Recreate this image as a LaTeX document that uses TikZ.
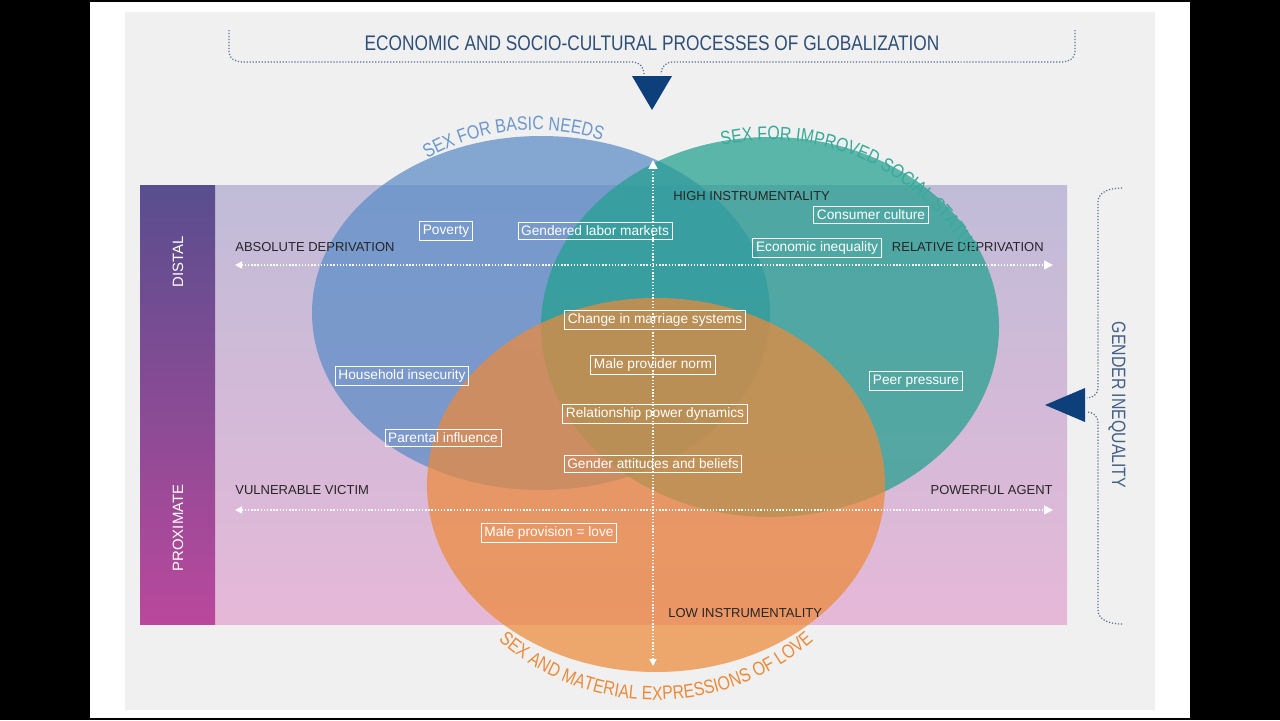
\documentclass[tikz,border=0pt]{standalone}
\usepackage{fontspec}
\setmainfont{Liberation Sans}
\newfontfamily\cond{Liberation Sans}[FakeStretch=0.82]
\usetikzlibrary{decorations.text,arrows.meta}
\definecolor{cblue}{HTML}{5A8CC6}
\definecolor{cgreen}{HTML}{22A08F}
\definecolor{corange}{HTML}{EC8A3A}
\definecolor{navy}{HTML}{0D3F7A}
\definecolor{ttl}{HTML}{2E4F78}
\tikzset{
 box/.style={draw=white,line width=0.5pt,text=white,font=\fontsize{7.8}{8}\selectfont,inner sep=1.8pt},
 lab/.style={text=black!85,font=\fontsize{7.4}{8}\selectfont,inner sep=0pt},
 axis/.style={white,line width=0.8pt,densely dotted,{Triangle[open,fill=white,length=4pt,width=4pt]}-{Triangle[fill=white,length=5pt,width=5pt]}},
 brace/.style={ttl!80,line width=0.7pt,densely dotted},
}
\begin{document}
\begin{tikzpicture}[x=0.02cm,y=-0.02cm]
\useasboundingbox (0,0) rectangle (1280,720);
\fill[black] (0,0) rectangle (1280,720);
\fill[white] (90,2) rectangle (1190,718);
\fill[gray!12] (125,12) rectangle (1155,710);
% main band
\shade[top color={rgb,255:red,192;green,188;blue,216},bottom color={rgb,255:red,230;green,184;blue,216}] (215,185) rectangle (1067,624);
\shade[top color={rgb,255:red,88;green,78;blue,142},bottom color={rgb,255:red,186;green,72;blue,156}] (140,185) rectangle (215,624);
% circles
\fill[cblue,opacity=0.72] (541,313) ellipse [x radius=229,y radius=177];
\fill[cgreen,opacity=0.72] (770,327) ellipse [x radius=229,y radius=190];
\fill[corange,opacity=0.72] (656,485) ellipse [x radius=229,y radius=187];
% axes
\coordinate (vt) at (653,160); \coordinate (vb) at (653,666);
\coordinate (h1l) at (235,265); \coordinate (h1r) at (1053,265);
\coordinate (h2l) at (235,510); \coordinate (h2r) at (1053,510);
\draw[axis] (vb) -- (vt);
\draw[axis] (h1l) -- (h1r);
\draw[axis] (h2l) -- (h2r);
% axis labels
\node[lab,anchor=west] (hi) at (673,196) {HIGH INSTRUMENTALITY};
\node[lab,anchor=west] (lo) at (668,613) {LOW INSTRUMENTALITY};
\node[lab,anchor=west] (ad) at (235,247) {ABSOLUTE DEPRIVATION};
\node[lab,anchor=east] (rd) at (1044,247) {RELATIVE DEPRIVATION};
\node[lab,anchor=west] (vv) at (235,490) {VULNERABLE VICTIM};
\node[lab,anchor=east] (pa) at (1053,490) {POWERFUL AGENT};
\node[text=white,font=\fontsize{8.5}{9}\selectfont,rotate=90] (ds) at (178,262) {DISTAL};
\node[text=white,font=\fontsize{8.5}{9}\selectfont,rotate=90] (px) at (178,528) {PROXIMATE};
% boxes
\node[box] (b1) at (446,231) {Poverty};
\node[box] (b2) at (595,231) {Gendered labor markets};
\node[box] (b3) at (871,215) {Consumer culture};
\node[box] (b4) at (817,248) {Economic inequality};
\node[box] (b5) at (655,320) {Change in marriage systems};
\node[box] (b6) at (653,365) {Male provider norm};
\node[box] (b7) at (402,376) {Household insecurity};
\node[box] (b8) at (916,381) {Peer pressure};
\node[box] (b9) at (655,414) {Relationship power dynamics};
\node[box] (b10) at (443,438) {Parental influence};
\node[box] (b11) at (653,464) {Gender attitudes and beliefs};
\node[box] (b12) at (549,533) {Male provision = love};
% title & braces
\node[text=ttl,font=\cond\fontsize{12}{12}\selectfont] (title) at (652,43) {ECONOMIC AND SOCIO-CULTURAL PROCESSES OF GLOBALIZATION};
\draw[brace] (229,30) -- (229,52) to[out=-90,in=180] (242,62) -- (633,62) to[out=0,in=90] (644,74);
\draw[brace] (1075,30) -- (1075,52) to[out=-90,in=0] (1062,62) -- (672,62) to[out=180,in=90] (661,74);
\fill[navy] (632,76) -- (672,76) -- (652,110) -- cycle;
\node[text=ttl!90,font=\cond\fontsize{11}{11}\selectfont,rotate=-90] (gi) at (1117,405) {GENDER INEQUALITY};
\draw[brace] (1122,188) to[out=180,in=90] (1098,202) -- (1098,388) to[out=-90,in=0] (1087,398);
\draw[brace] (1122,624) to[out=180,in=-90] (1098,610) -- (1098,422) to[out=90,in=0] (1087,412);
\fill[navy] (1085,388) -- (1085,422) -- (1045,405) -- cycle;
% curved circle titles
\path[decorate,decoration={text along path,text align=center,text color=cblue!90,
 text={|\cond\fontsize{11}{11}\selectfont|SEX FOR BASIC NEEDS}}]
 (535,345) ++(226:215) arc (226:302:215);
\path[decorate,decoration={text along path,text align=center,text color=cgreen!90,
 text={|\cond\fontsize{11}{11}\selectfont|SEX FOR IMPROVED SOCIAL STATUS}}]
 (770,368) ++(238:228) arc (238:350:228);
\path[decorate,decoration={text along path,text align=center,text color=corange,
 text={|\cond\fontsize{11}{11}\selectfont|SEX AND MATERIAL EXPRESSIONS OF LOVE}}]
 (656,462) ++(142:238) arc (142:38:238);
\end{tikzpicture}
\end{document}
